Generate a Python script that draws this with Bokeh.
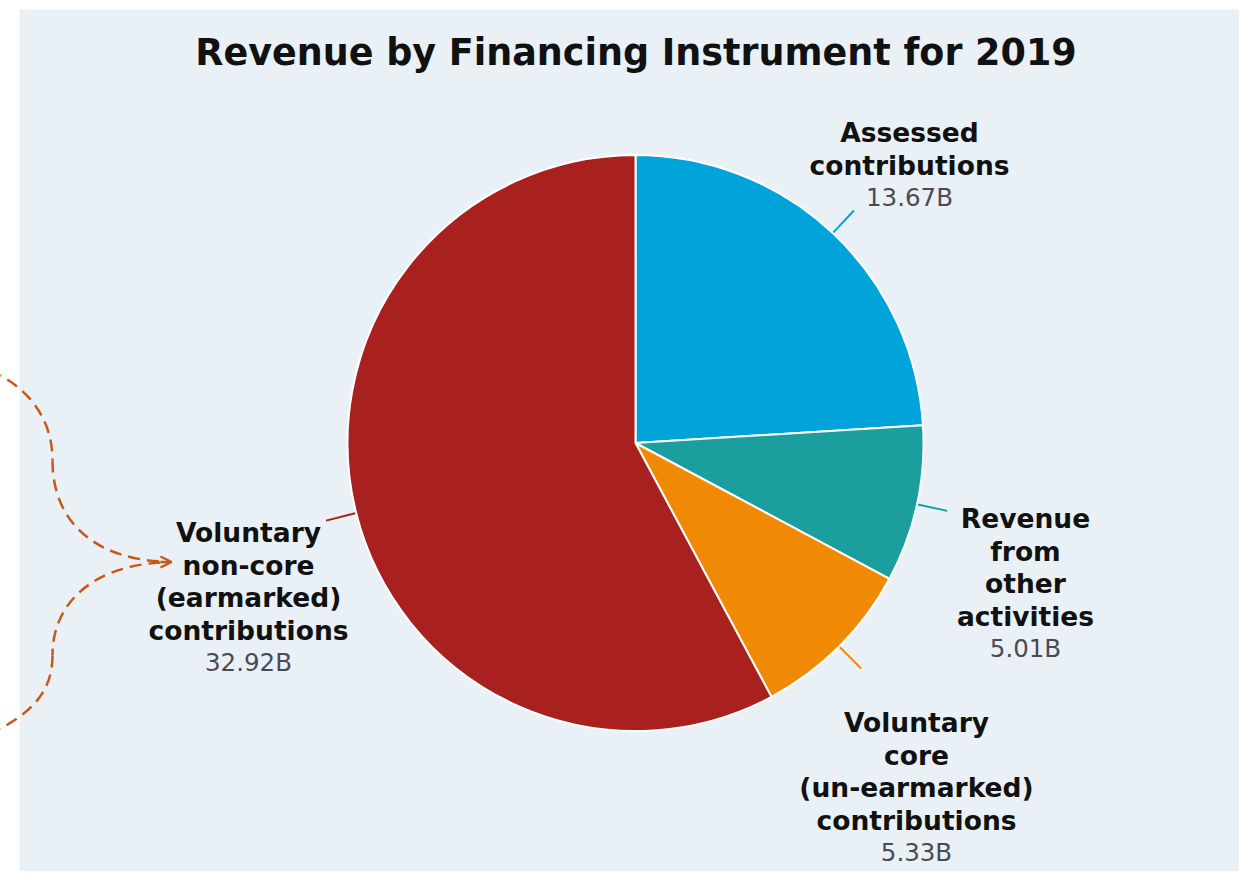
import numpy as np
from bokeh.plotting import figure
from bokeh.models import Range1d, ColumnDataSource, Arrow, OpenHead
from bokeh.core.properties import value
from bokeh.embed import file_html
from bokeh.resources import INLINE

# ---- data ----
categories = ["Assessed contributions", "Revenue from other activities",
              "Voluntary core (un-earmarked) contributions",
              "Voluntary non-core (earmarked) contributions"]
label_lines = [["Assessed", "contributions"],
               ["Revenue", "from", "other", "activities"],
               ["Voluntary", "core", "(un-earmarked)", "contributions"],
               ["Voluntary", "non-core", "(earmarked)", "contributions"]]
values = [13.67, 5.01, 5.33, 32.92]
value_labels = ["13.67B", "5.01B", "5.33B", "32.92B"]
colors = ["#00A4DB", "#1A9E9E", "#F08A05", "#A8211E"]

# ---- layout (image pixel coordinates -> data with y up) ----
W, H = 1239, 871
def Y(py):
    return H - py

TOFF = 10  # text baseline correction
cx, cy, R = 635, Y(442.5), 288
# label anchor: (center x, baseline of first line in image px)
label_pos = [(909, 142), (1025, 528), (916, 732), (248, 542)]
pitch = 32.5

p = figure(width=W, height=H, x_range=Range1d(0, W), y_range=Range1d(0, H),
           x_axis_type=None, y_axis_type=None, toolbar_location=None,
           output_backend="svg", min_border=0)
p.outline_line_color = None
p.background_fill_color = "white"
p.border_fill_color = "white"
p.grid.visible = False

# panel background
p.quad(left=19, right=W + 20, bottom=-20, top=Y(9), fill_color="#EAF1F6", line_color=None)

# pie wedges
vals = np.array(values)
frac = vals / vals.sum()
cum = np.concatenate([[0], np.cumsum(frac)])
start = np.pi / 2 - cum[:-1] * 2 * np.pi
end = np.pi / 2 - cum[1:] * 2 * np.pi
src = ColumnDataSource(dict(x=[cx] * 4, y=[cy] * 4, start=start, end=end, color=colors))
p.wedge(x="x", y="y", radius=R, start_angle="start", end_angle="end", direction="clock",
        fill_color="color", line_color="white", line_width=2, source=src)

# leader lines
mid = np.pi / 2 - (cum[:-1] + cum[1:]) / 2 * 2 * np.pi
xs = [[cx + (R + 1) * np.cos(a), cx + (R + 31) * np.cos(a)] for a in mid]
ys = [[cy + (R + 1) * np.sin(a), cy + (R + 31) * np.sin(a)] for a in mid]
p.multi_line(xs=xs, ys=ys, line_color=colors, line_width=2)

# labels
tx, ty, tt = [], [], []
vx, vy, vt = [], [], []
for lines, (lx, ly), vl in zip(label_lines, label_pos, value_labels):
    for i, ln in enumerate(lines):
        tx.append(lx); ty.append(Y(ly - TOFF + i * pitch)); tt.append(ln)
    vx.append(lx); vy.append(Y(ly - TOFF + len(lines) * pitch)); vt.append(vl)
p.text(x=tx, y=ty, text=tt, text_font=value("DejaVu Sans"), text_font_style="bold",
       text_font_size="26.5px", text_align="center", text_baseline="alphabetic",
       text_color="#111111")
p.text(x=vx, y=vy, text=vt, text_font=value("DejaVu Sans"),
       text_font_size="24.5px", text_align="center", text_baseline="alphabetic",
       text_color="#4a4a55")

# title
p.text(x=[635.5], y=[Y(62 - TOFF)], text=["Revenue by Financing Instrument for 2019"],
       text_font=value("DejaVu Sans"), text_font_style="bold", text_font_size="36.5px",
       text_align="center", text_baseline="alphabetic", text_color="#111111")

# decorative dashed arrows on the left
dash_col = "#C8581A"
p.bezier(x0=[-10, 52, 160, 52], y0=[Y(370), Y(460), Y(562), Y(655)],
         x1=[52, 162, 52, -10], y1=[Y(460), Y(561), Y(655), Y(733)],
         cx0=[30, 52, 95, 52], cy0=[Y(388), Y(522), Y(566), Y(692)],
         cx1=[52, 95, 52, 30], cy1=[Y(420), Y(558), Y(600), Y(714)],
         line_color=dash_col, line_width=2.5, line_dash="12 7")
p.add_layout(Arrow(end=OpenHead(size=11, line_color=dash_col, line_width=2.5),
                   x_start=160, y_start=Y(561.5), x_end=171, y_end=Y(561.5),
                   line_color=dash_col, line_width=2.5))

open("out.html", "w").write(file_html(p, INLINE))
